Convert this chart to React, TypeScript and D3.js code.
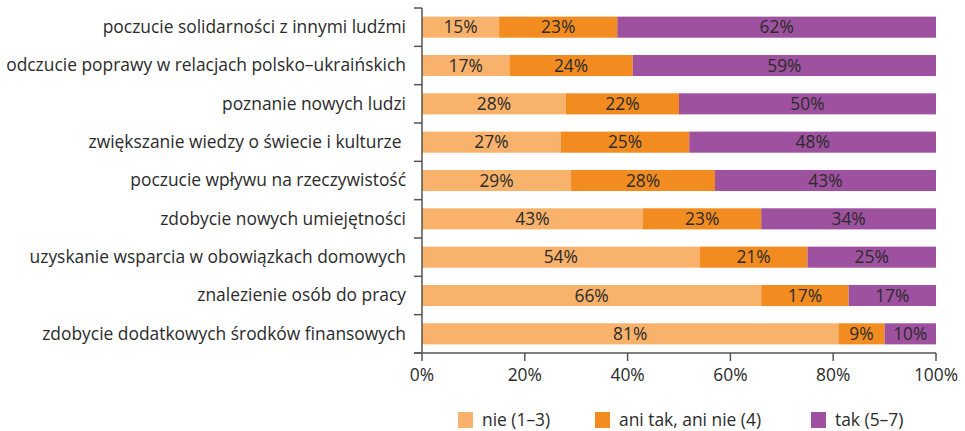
import React from "react";
import * as d3 from "d3";

const categories = [
  "poczucie solidarności z innymi ludźmi",
  "odczucie poprawy w relacjach polsko–ukraińskich",
  "poznanie nowych ludzi",
  "zwiększanie wiedzy o świecie i kulturze ",
  "poczucie wpływu na rzeczywistość",
  "zdobycie nowych umiejętności",
  "uzyskanie wsparcia w obowiązkach domowych",
  "znalezienie osób do pracy",
  "zdobycie dodatkowych środków finansowych",
];
const nie = [15, 17, 28, 27, 29, 43, 54, 66, 81];
const ani = [23, 24, 22, 25, 28, 23, 21, 17, 9];
const tak = [62, 59, 50, 48, 43, 34, 25, 17, 10];
const seriesNames = ["nie (1–3)", "ani tak, ani nie (4)", "tak (5–7)"];
const seriesColors = ["#F9B26B", "#F28B20", "#9E519F"];
const xTicks = [0, 20, 40, 60, 80, 100];

const W = 965, H = 431;
const left = 422, right = 936, top = 8, bottom = 353;
const font = "'Open Sans', 'Noto Sans', sans-serif";
const textColor = "#2b2b2b";
const axisColor = "#555";
const fs = 17.4;

export default function App() {
  const x = d3.scaleLinear().domain([0, 100]).range([left, right]);
  const y = d3.scaleBand<string>().domain(categories).range([top, bottom]).paddingInner(0.45).paddingOuter(0.225);
  const step = y.step();
  const series = [nie, ani, tak];
  const boundaries = d3.range(categories.length + 1).map((i) => top + i * step);
  const legendX = [458, 595, 811];

  return (
    <div style={{ position: "absolute", left: 0, top: 0 }}>
      <svg width={W} height={H} style={{ display: "block", fontFamily: font }}>
        {categories.map((c, i) => {
          let acc = 0;
          const y0 = y(c)!;
          return (
            <g key={c}>
              {series.map((s, k) => {
                const v = s[i];
                const x0 = x(acc);
                acc += v;
                const x1 = x(acc);
                return (
                  <g key={k}>
                    <rect x={x0} y={y0} width={x1 - x0} height={y.bandwidth()} fill={seriesColors[k]} />
                    <text x={(x0 + x1) / 2} y={y0 + y.bandwidth() / 2} dy="0.36em" textAnchor="middle" fontSize={fs} fill={textColor}>
                      {v}%
                    </text>
                  </g>
                );
              })}
              <text x={406} y={y0 + y.bandwidth() / 2} dy="0.34em" textAnchor="end" fontSize={fs} fill={textColor} style={{ whiteSpace: "pre" }}>
                {c}
              </text>
            </g>
          );
        })}
        {/* y axis */}
        <line x1={left} x2={left} y1={top} y2={bottom} stroke={axisColor} strokeWidth={1.5} />
        {boundaries.map((b, i) => (
          <line key={i} x1={left - 8} x2={left} y1={b} y2={b} stroke={axisColor} strokeWidth={1.5} />
        ))}
        {/* x axis */}
        <line x1={left - 8} x2={right} y1={bottom} y2={bottom} stroke={axisColor} strokeWidth={1.5} />
        {xTicks.map((t) => (
          <g key={t}>
            <line x1={x(t)} x2={x(t)} y1={bottom} y2={bottom + 8} stroke={axisColor} strokeWidth={1.5} />
            <text x={x(t)} y={bottom + 22} dy="0.36em" textAnchor="middle" fontSize={fs} fill={textColor}>
              {t}%
            </text>
          </g>
        ))}
        {/* legend */}
        {seriesNames.map((n, k) => (
          <g key={n}>
            <rect x={legendX[k]} y={412} width={15} height={16} fill={seriesColors[k]} />
            <text x={legendX[k] + 24} y={420} dy="0.36em" fontSize={fs} fill={textColor}>
              {n}
            </text>
          </g>
        ))}
      </svg>
    </div>
  );
}
